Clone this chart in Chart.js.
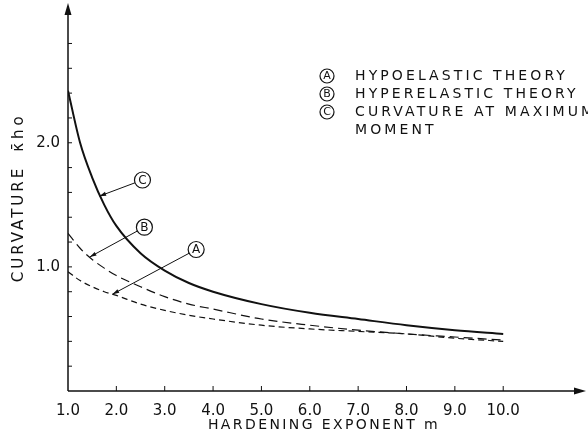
<!DOCTYPE html>
<html lang="en">
  <head>
    <meta charset="UTF-8" />
    <title>Curvature vs hardening exponent</title>
    <script src="https://cdn.jsdelivr.net/npm/chart.js"></script>
    <style>
      * {
        margin: 0;
        padding: 0;
        box-sizing: border-box;
      }
      body {
        background: #fff;
        width: 588px;
        height: 446px;
        overflow: hidden;
      }
      canvas {
        display: block;
      }
    </style>
  </head>
  <body>
    <canvas id="curvChart" width="588" height="446"></canvas>

    <script>
      // hardening exponent m
      const hardening = [1.0, 1.25, 1.5, 1.75, 2.0, 2.5, 3.0, 3.5, 4.0, 5.0, 6.0, 7.0, 8.0, 9.0, 10.0];
      // (A) hypoelastic theory
      const hypoelastic = [0.96, 0.89, 0.84, 0.8, 0.77, 0.7, 0.65, 0.61, 0.58, 0.53, 0.5, 0.48, 0.46, 0.425, 0.4];
      // (B) hyperelastic theory
      const hyperelastic = [1.27, 1.15, 1.06, 0.99, 0.93, 0.84, 0.76, 0.7, 0.66, 0.58, 0.53, 0.49, 0.46, 0.435, 0.41];
      // (C) curvature at maximum moment
      const maxMoment = [2.42, 2.0, 1.72, 1.5, 1.33, 1.11, 0.97, 0.87, 0.8, 0.7, 0.63, 0.58, 0.53, 0.49, 0.46];

      const xTickLabels = ["1.0", "2.0", "3.0", "4.0", "5.0", "6.0", "7.0", "8.0", "9.0", "10.0"];
      const yTickLabels = ["1.0", "2.0"];
      const legendRows = [
        ["A", "HYPOELASTIC THEORY"],
        ["B", "HYPERELASTIC THEORY"],
        ["C", "CURVATURE AT MAXIMUM", "MOMENT"],
      ];
      // circled letter position and arrow tip, both in data units
      const callouts = [
        { letter: "C", at: [2.54, 1.7], tip: [1.65, 1.57] },
        { letter: "B", at: [2.58, 1.32], tip: [1.45, 1.08] },
        { letter: "A", at: [3.65, 1.14], tip: [1.92, 0.78] },
      ];

      const ink = "#111";
      const FONT = "'DejaVu Sans', sans-serif";

      function pts(ys) {
        return hardening.map((m, i) => ({ x: m, y: ys[i] }));
      }

      function circled(ctx, x, y, r, letter, size) {
        ctx.beginPath();
        ctx.arc(x, y, r, 0, Math.PI * 2);
        ctx.lineWidth = 1.2;
        ctx.strokeStyle = ink;
        ctx.stroke();
        ctx.font = size + "px " + FONT;
        ctx.fillStyle = ink;
        ctx.textAlign = "center";
        ctx.textBaseline = "middle";
        ctx.letterSpacing = "0px";
        ctx.fillText(letter, x, y + 0.5);
      }

      function arrowLine(ctx, x1, y1, x2, y2) {
        const a = Math.atan2(y2 - y1, x2 - x1);
        ctx.beginPath();
        ctx.moveTo(x1, y1);
        ctx.lineTo(x2, y2);
        ctx.lineWidth = 1;
        ctx.strokeStyle = ink;
        ctx.stroke();
        ctx.beginPath();
        ctx.moveTo(x2, y2);
        ctx.lineTo(x2 - 7 * Math.cos(a - 0.3), y2 - 7 * Math.sin(a - 0.3));
        ctx.lineTo(x2 - 7 * Math.cos(a + 0.3), y2 - 7 * Math.sin(a + 0.3));
        ctx.closePath();
        ctx.fillStyle = ink;
        ctx.fill();
      }

      const decorations = {
        id: "decorations",
        afterDraw(chart) {
          const ctx = chart.ctx;
          const xs = chart.scales.x;
          const ys = chart.scales.y;
          const x0 = xs.getPixelForValue(1);
          const y0 = ys.getPixelForValue(0);
          ctx.save();

          // axes with arrows
          ctx.strokeStyle = ink;
          ctx.fillStyle = ink;
          ctx.lineWidth = 1.5;
          ctx.beginPath();
          ctx.moveTo(x0, y0);
          ctx.lineTo(x0, 10);
          ctx.moveTo(x0, y0);
          ctx.lineTo(578, y0);
          ctx.stroke();
          ctx.beginPath();
          ctx.moveTo(x0, 3);
          ctx.lineTo(x0 - 3.5, 15);
          ctx.lineTo(x0 + 3.5, 15);
          ctx.closePath();
          ctx.fill();
          ctx.beginPath();
          ctx.moveTo(586, y0);
          ctx.lineTo(574, y0 - 3.5);
          ctx.lineTo(574, y0 + 3.5);
          ctx.closePath();
          ctx.fill();

          // inward tick marks
          ctx.lineWidth = 1;
          ys.ticks.forEach((t) => {
            const r = Math.round(t.value * 5) / 5;
            if (Math.abs(t.value - r) > 1e-6 || r <= 0 || r > 2.9) return;
            const py = ys.getPixelForValue(t.value);
            ctx.beginPath();
            ctx.moveTo(x0, py);
            ctx.lineTo(x0 + 4, py);
            ctx.stroke();
          });
          xs.ticks.forEach((t) => {
            if (t.value <= 1 || t.value > 10 || t.value % 1 !== 0) return;
            const px = xs.getPixelForValue(t.value);
            ctx.beginPath();
            ctx.moveTo(px, y0);
            ctx.lineTo(px, y0 - 5);
            ctx.stroke();
          });

          // callouts
          callouts.forEach((c) => {
            const cx = xs.getPixelForValue(c.at[0]);
            const cy = ys.getPixelForValue(c.at[1]);
            const tx = xs.getPixelForValue(c.tip[0]);
            const ty = ys.getPixelForValue(c.tip[1]);
            const d = Math.hypot(tx - cx, ty - cy);
            const r = 8;
            arrowLine(ctx, cx + ((tx - cx) * r) / d, cy + ((ty - cy) * r) / d, tx, ty);
            circled(ctx, cx, cy, r, c.letter, 12);
          });

          // legend
          legendRows.forEach((row, i) => {
            const y = 76 + i * 18;
            circled(ctx, 327, y, 7, row[0], 11);
            ctx.font = "14px " + FONT;
            ctx.letterSpacing = "3.1px";
            ctx.textAlign = "left";
            ctx.textBaseline = "middle";
            ctx.fillText(row[1], 355, y + 0.5);
            if (row[2]) ctx.fillText(row[2], 355, y + 18.5);
          });

          // axis titles
          ctx.font = "14px " + FONT;
          ctx.letterSpacing = "2.4px";
          ctx.textAlign = "center";
          ctx.textBaseline = "middle";
          ctx.fillText("HARDENING EXPONENT m", 324, 425);

          ctx.translate(19, 0);
          ctx.rotate(-Math.PI / 2);
          ctx.font = "15px " + FONT;
          ctx.letterSpacing = "3px";
          ctx.fillText("CURVATURE", -224, 0);
          ctx.letterSpacing = "4px";
          ctx.fillText("κ̄ho", -132, 0);

          ctx.restore();
        },
      };

      const ctx = document.getElementById("curvChart").getContext("2d");
      new Chart(ctx, {
        type: "line",
        data: {
          datasets: [
            {
              label: "C",
              data: pts(maxMoment),
              borderColor: ink,
              borderWidth: 2,
              pointRadius: 0,
              cubicInterpolationMode: "monotone",
            },
            {
              label: "B",
              data: pts(hyperelastic),
              borderColor: ink,
              borderWidth: 1.2,
              borderDash: [9, 5],
              pointRadius: 0,
              cubicInterpolationMode: "monotone",
            },
            {
              label: "A",
              data: pts(hypoelastic),
              borderColor: ink,
              borderWidth: 1.2,
              borderDash: [6, 4],
              pointRadius: 0,
              cubicInterpolationMode: "monotone",
            },
          ],
        },
        options: {
          responsive: false,
          animation: false,
          devicePixelRatio: 1,
          layout: { padding: { top: 5, right: 5, left: 0, bottom: 0 } },
          plugins: {
            legend: { display: false },
            tooltip: { enabled: false },
          },
          scales: {
            x: {
              type: "linear",
              min: 1,
              max: 11.65,
              afterFit(s) {
                s.height = 55;
                s.paddingLeft = 0;
                s.paddingRight = 0;
              },
              grid: { display: false, drawTicks: false },
              border: { display: false },
              ticks: {
                stepSize: 1,
                padding: 11,
                autoSkip: false,
                maxRotation: 0,
                color: ink,
                font: { family: FONT, size: 15 },
                callback: (v) => (Number.isInteger(v) ? xTickLabels[v - 1] || "" : ""),
              },
            },
            y: {
              min: 0,
              max: 3.11,
              afterFit(s) {
                s.width = 68;
                s.paddingTop = 0;
                s.paddingBottom = 0;
              },
              grid: { display: false, drawTicks: false },
              border: { display: false },
              ticks: {
                stepSize: 0.2,
                padding: 8,
                autoSkip: false,
                color: ink,
                font: { family: FONT, size: 15 },
                callback: (v) => {
                  const s = v.toFixed(1);
                  return Math.abs(v - parseFloat(s)) < 1e-6 && yTickLabels.includes(s) ? s : "";
                },
              },
            },
          },
        },
        plugins: [decorations],
      });
    </script>
  </body>
</html>
